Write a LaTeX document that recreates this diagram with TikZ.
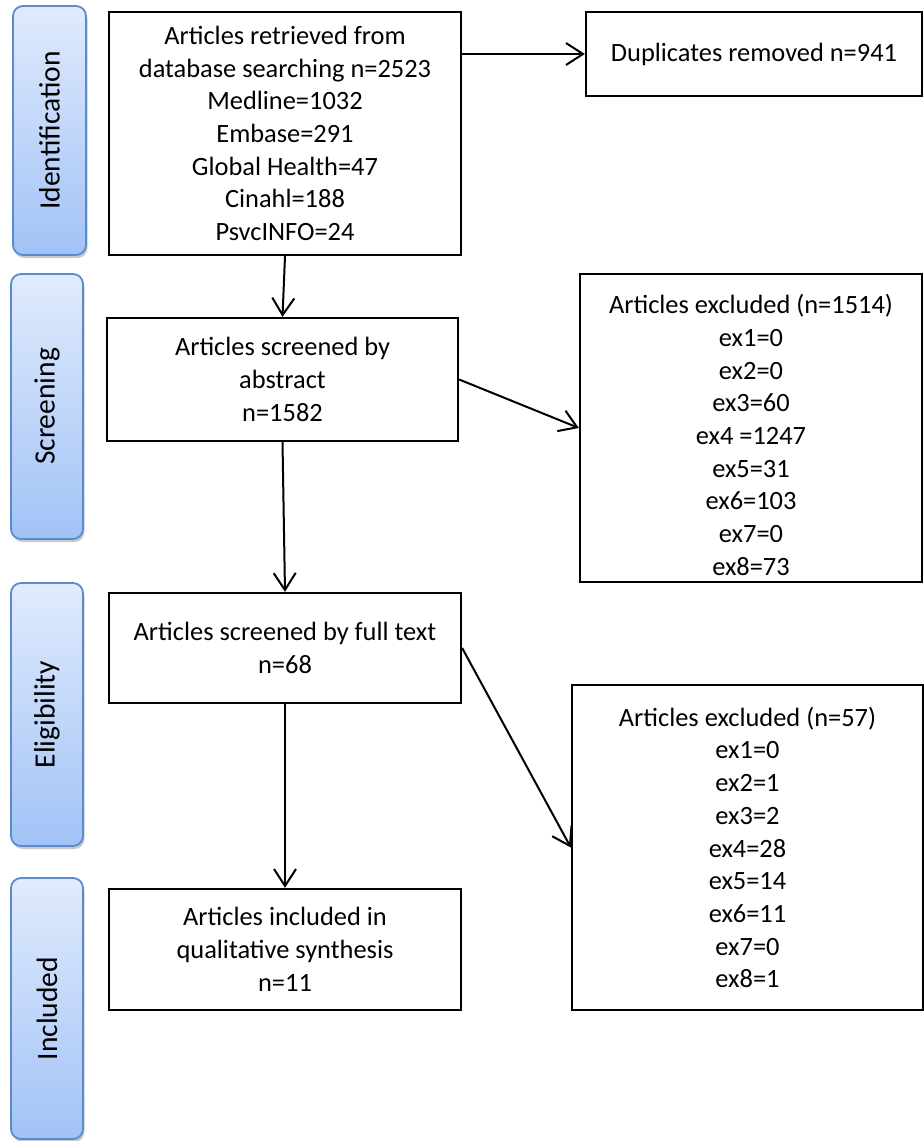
\documentclass[tikz,border=0pt]{standalone}
\usepackage{fontspec}
\setmainfont{Carlito}
\usetikzlibrary{arrows.meta,shadows}
\definecolor{sidetop}{HTML}{E0EBFD}
\definecolor{sidebot}{HTML}{A2C2F6}
\definecolor{sideedge}{HTML}{5B8BCF}
\tikzset{
  px/.style={x=1pt,y=-1pt},
  sidebox/.style={draw=sideedge, line width=1.8pt, rounded corners=10pt,
    top color=sidetop, bottom color=sidebot, inner sep=0pt,
    drop shadow={shadow xshift=1.5pt, shadow yshift=-3pt, opacity=0.35, fill=black!60}},
  sidetext/.style={rotate=90, font=\fontsize{29.5}{35}\selectfont, inner sep=0pt},
  flowbox/.style={draw=black, line width=2.3pt, fill=white, inner sep=0pt, align=center,
    font=\fontsize{26.4}{32.7}\selectfont},
  flowarrow/.style={line width=2pt, -{Straight Barb[length=17pt,width=22pt,line width=2pt]}}
}
\begin{document}
\begin{tikzpicture}[px]
\useasboundingbox (0,0) rectangle (924,1141);
% side phase labels
\node[sidebox, minimum width=73pt, minimum height=249pt] (sid) at (49.5,130.5) {};
\node[sidetext] (sidt) at (sid) {Identification};
\node[sidebox, minimum width=72pt, minimum height=265pt] (sscr) at (47,406.5) {};
\node[sidetext] (sscrt) at (sscr) {Screening};
\node[sidebox, minimum width=72pt, minimum height=263pt] (selg) at (47,714.5) {};
\node[sidetext] (selgt) at (selg) {Eligibility};
\node[sidebox, minimum width=72pt, minimum height=261pt] (sinc) at (47,1008.5) {};
\node[sidetext] (sinct) at (sinc) {Included};
% flow boxes
\node[flowbox, minimum width=352pt, minimum height=243pt] (ret) at (285,133.5)
  {Articles retrieved from\\database searching n=2523\\Medline=1032\\Embase=291\\Global Health=47\\Cinahl=188\\PsvcINFO=24};
\node[flowbox, minimum width=336pt, minimum height=84pt] (dup) at (754,54)
  {Duplicates removed n=941};
\node[flowbox, minimum width=351pt, minimum height=123pt] (scr) at (282.5,379.5)
  {Articles screened by\\abstract\\n=1582};
\node[flowbox, minimum width=342pt, minimum height=308pt] (ex1) at (751,428)
  {\rule{0pt}{33pt}Articles excluded (n=1514)\\ex1=0\\ex2=0\\ex3=60\\ex4 =1247\\ex5=31\\ex6=103\\ex7=0\\ex8=73};
\node[flowbox, minimum width=352pt, minimum height=110pt] (ful) at (285,648)
  {Articles screened by full text\\n=68};
\node[flowbox, minimum width=351pt, minimum height=325pt] (ex2) at (747.5,847.5)
  {Articles excluded (n=57)\\ex1=0\\ex2=1\\ex3=2\\ex4=28\\ex5=14\\ex6=11\\ex7=0\\ex8=1};
\node[flowbox, minimum width=352pt, minimum height=121pt] (inc) at (285,949.5)
  {Articles included in\\qualitative synthesis\\n=11};
% connectors
\draw[flowarrow] (ret.north east |- dup.west) -- (dup.west);
\draw[flowarrow] (ret.south) -- (scr.north);
\draw[flowarrow] (scr.east) -- (ex1.west);
\draw[flowarrow] (scr.south) -- (ful.north);
\draw[flowarrow] (ful.east) -- (ex2.west);
\draw[flowarrow] (ful.south) -- (inc.north);
\end{tikzpicture}
\end{document}
